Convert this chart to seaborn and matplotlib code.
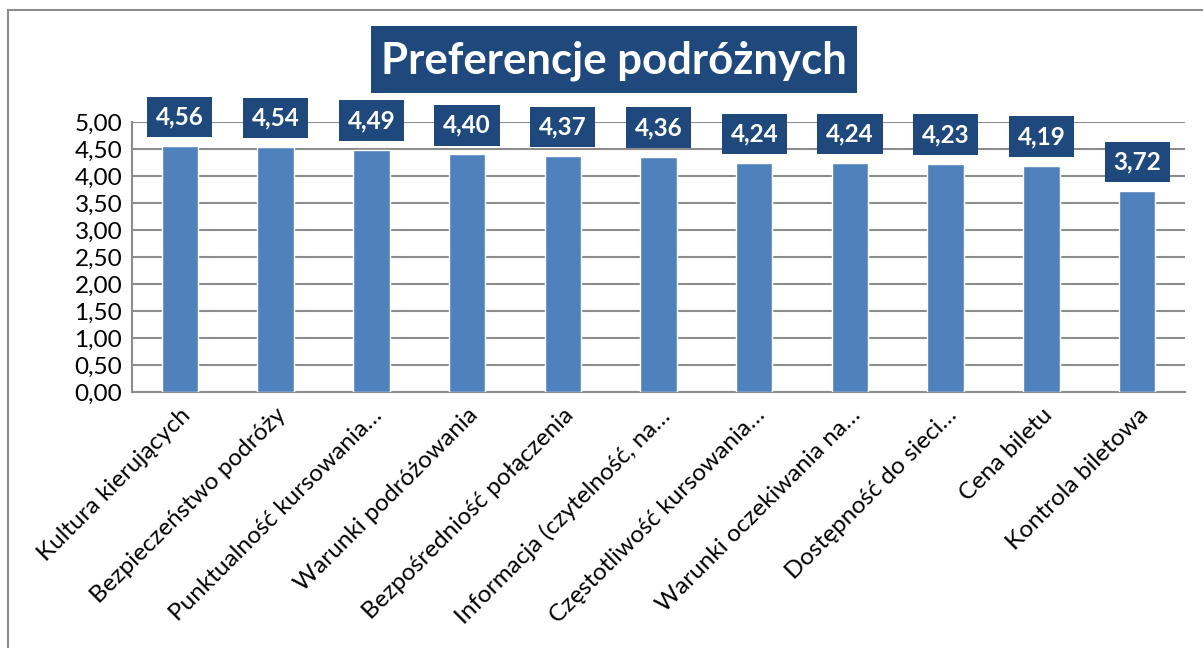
import seaborn as sns
import matplotlib.pyplot as plt
import pandas as pd
from matplotlib.patches import Rectangle
from matplotlib.ticker import FuncFormatter, MultipleLocator

categories = [
    "Kultura kierujących",
    "Bezpieczeństwo podróży",
    "Punktualność kursowania…",
    "Warunki podróżowania",
    "Bezpośredniość połączenia",
    "Informacja (czytelność, na…",
    "Częstotliwość kursowania…",
    "Warunki oczekiwania na…",
    "Dostępność do sieci…",
    "Cena biletu",
    "Kontrola biletowa",
]
values = [4.56, 4.54, 4.49, 4.40, 4.37, 4.36, 4.24, 4.24, 4.23, 4.19, 3.72]

df = pd.DataFrame({"Kategoria": categories, "Ocena": values})

sns.set_theme(style="white")
plt.rcParams['font.family'] = ['Lato', 'DejaVu Sans']

W, H = 1203, 648
fig = plt.figure(figsize=(W / 100, H / 100), dpi=100)
ax = fig.add_axes([132 / W, 1 - 392 / H, (1185 - 132) / W, (392 - 122) / H])

grid_c = "#8c8c8c"
bar_c = "#4F81BD"
box_c = "#1F497D"

sns.barplot(data=df, x="Kategoria", y="Ocena", color=bar_c, width=0.38,
            saturation=1, ax=ax, zorder=3)

ax.set_ylim(0, 5)
ax.set_xlim(-0.5, len(categories) - 0.5)
ax.yaxis.set_major_locator(MultipleLocator(0.5))
ax.yaxis.set_major_formatter(FuncFormatter(lambda v, p: f"{v:.2f}".replace(".", ",")))
ax.grid(axis="y", color=grid_c, lw=1.5, zorder=0)
ax.set_axisbelow(True)

for s in ["top", "right"]:
    ax.spines[s].set_visible(False)
for s in ["left", "bottom"]:
    ax.spines[s].set_color(grid_c)
    ax.spines[s].set_linewidth(1.5)

ax.tick_params(axis="y", length=0, labelsize=17.5, pad=7)
ax.tick_params(axis="x", length=0, pad=9)
ax.set_xlabel("")
ax.set_ylabel("")
ax.set_xticks(range(len(categories)))
ax.set_xticklabels(categories, rotation=45, ha="right", rotation_mode="anchor",
                   fontsize=17.5, color="black")
for t in ax.get_yticklabels():
    t.set_color("black")

# value labels in dark boxes above bars
for i, v in enumerate(values):
    ax.annotate(f"{v:.2f}".replace(".", ","), xy=(i, v), xytext=(0, 29),
                textcoords="offset pixels", ha="center", va="center",
                fontsize=17.5, fontweight="bold", color="white",
                bbox=dict(boxstyle="square,pad=0.36", fc=box_c, ec="none"),
                annotation_clip=False, zorder=5)

# title box
fig.patches.append(Rectangle((371 / W, 1 - 93 / H), (857 - 371) / W, 67 / H,
                             transform=fig.transFigure, fc=box_c, ec="none"))
fig.text((371 + 857) / 2 / W, 1 - 61 / H, "Preferencje podróżnych",
         ha="center", va="center", fontsize=31.5, fontweight="bold", color="white")

# outer chart frame
fig.patches.append(Rectangle((8 / W, -0.1), 1.1, 1.1 - 10 / H,
                             transform=fig.transFigure, fill=False,
                             ec="#8c8c8c", lw=1.5))

fig.savefig("out.png", dpi=100)
